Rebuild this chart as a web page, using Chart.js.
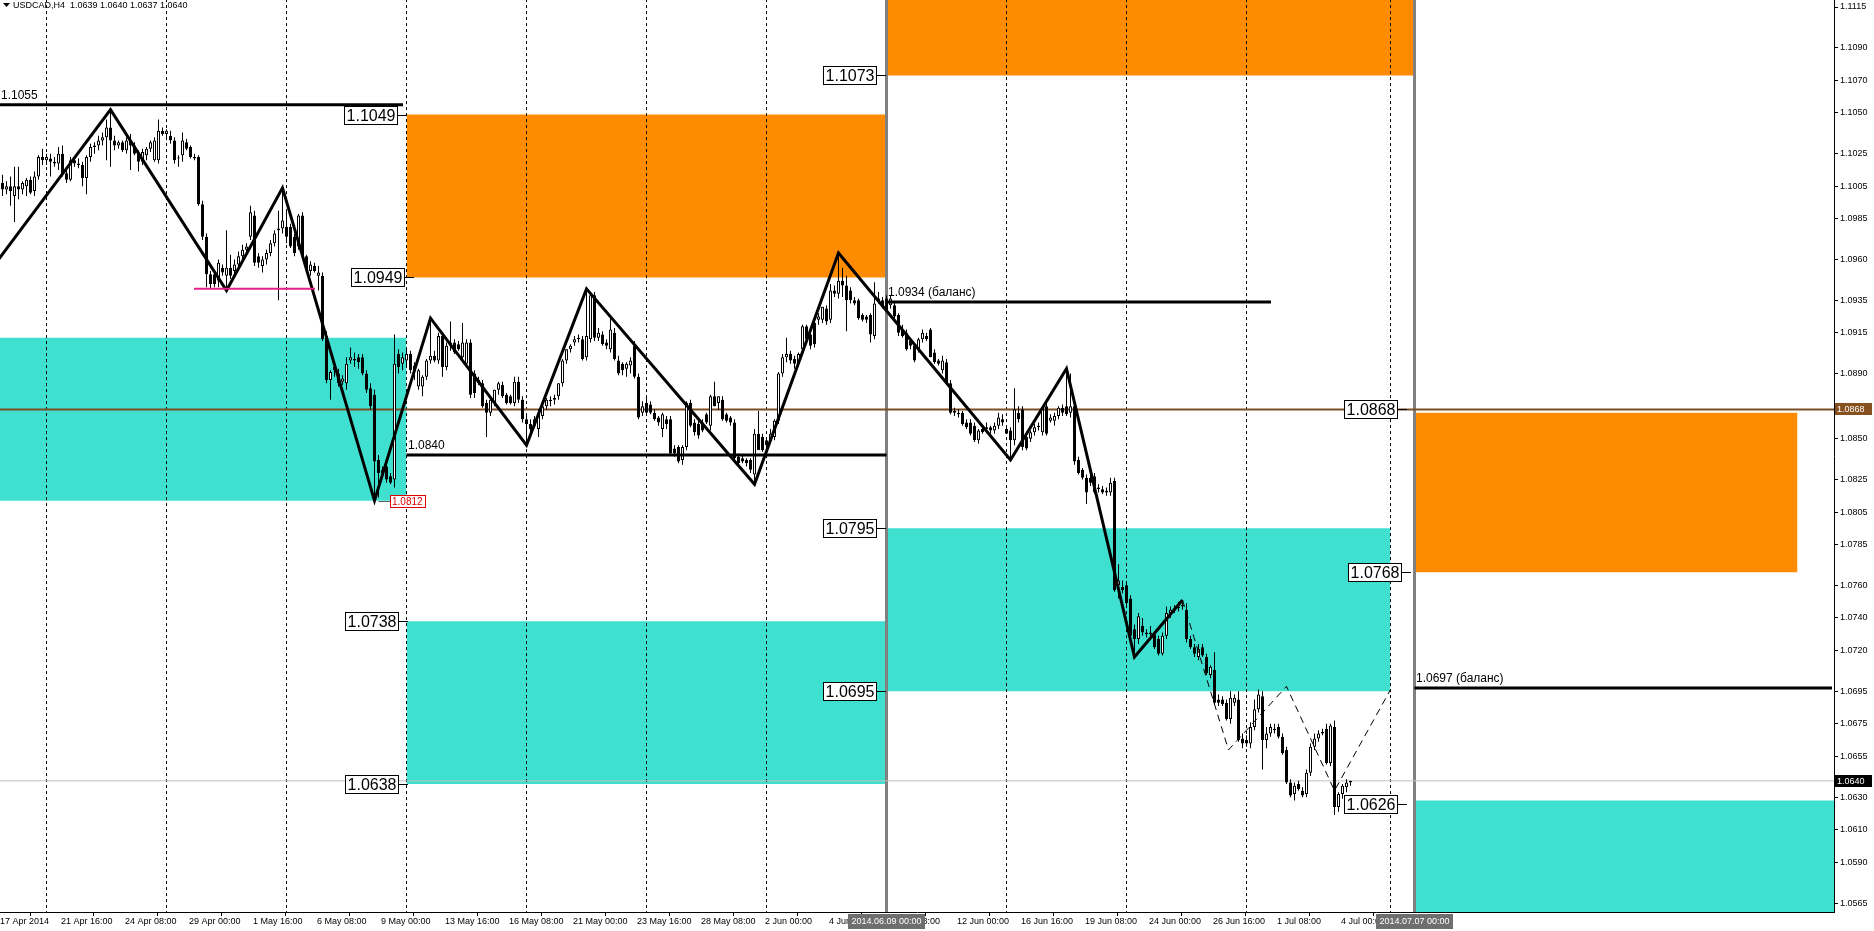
<!DOCTYPE html>
<html>
<head>
<meta charset="utf-8">
<script src="https://cdn.jsdelivr.net/npm/chart.js@4.4.1/dist/chart.umd.min.js"></script>
<style>
  html, body { margin: 0; padding: 0; background: #fff; overflow: hidden; }
  canvas { display: block; }
</style>
</head>
<body>
<canvas id="chart" width="1874" height="931"></canvas>
<script>
// USDCAD H4 - prices kept as pips above 1.0000 (1013 -> 1.1013), one [open, high, low, close] per bar
const candlesApr = [
  [1007,1012,999,1003],[1003,1008,1000,1005],[1005,1011,993,1002],[999,1017,983,1005],[1005,1017,997,1003],
  [1003,1008,1000,1007],[1005,1010,999,1009],[1009,1011,1000,1001],[1002,1014,999,1011],[1011,1024,1009,1023],
  [1023,1028,1018,1021],[1021,1025,1018,1023],[1022,1025,1011,1020],[1020,1023,1017,1019],[1019,1029,1015,1025],
  [1025,1030,1011,1013],[1013,1016,1007,1009],[1009,1023,1008,1021],[1021,1023,1017,1019],[1019,1022,1016,1018],
  [1018,1020,1005,1010],[1010,1024,1000,1023],[1023,1031,1020,1029],[1029,1032,1025,1030],[1030,1036,1027,1033],
  [1033,1038,1030,1035],[1035,1046,1021,1041],[1041,1052,1017,1033],[1033,1036,1027,1030],[1030,1033,1028,1032],
  [1032,1033,1026,1027],[1027,1035,1025,1033],[1033,1037,1015,1030],[1030,1032,1024,1025],[1025,1027,1014,1020],
  [1020,1028,1018,1026],[1024,1029,1021,1028],[1028,1033,1026,1032],[1021,1035,1020,1033],[1021,1046,1019,1039],
  [1039,1041,1036,1037],[1037,1040,1035,1039],[1036,1039,1031,1033],[1033,1035,1019,1021],[1022,1024,1017,1022],
  [1024,1038,1020,1033],[1032,1034,1027,1028],[1029,1030,1022,1023],[1023,1025,1021,1022],[1023,1024,993,994],
  [994,996,972,974],[974,976,943,951],[951,953,942,945],[951,953,943,945],[947,960,943,958],
  [955,957,950,952],[950,978,941,955],[955,963,948,950],[953,960,951,957],[957,965,954,962],
  [962,969,960,966],[966,970,964,968],[974,993,972,989],[987,990,956,958],[962,964,955,958],
  [956,962,952,960],[960,966,957,964],[964,972,962,970],[970,978,968,976],[978,990,935,979],
  [979,1004,976,984],[980,990,970,974],[980,982,967,968],[974,976,962,964],[968,988,966,987],
  [987,989,960,962],[962,963,952,954],[953,959,950,957],[956,958,952,953],[950,956,941,952],
  [950,952,910,911],[913,916,884,886],[886,892,874,891],[892,896,888,894],[890,893,882,884],
  [885,889,883,887],[884,900,880,896],[898,906,896,900],[899,903,894,898],[900,902,893,897],
  [900,902,889,890],[890,892,878,880],[881,884,868,870],[877,880,812,836],[837,840,814,829],
  [831,833,826,829],[833,836,823,825],[827,829,822,823],[825,914,820,896],[902,905,890,894],
  [896,903,892,900],[898,905,894,902],[902,904,890,892]
];
const candlesMay = [
  [895,897,886,892],[882,893,880,892],[882,889,876,888],[888,899,886,898],[898,924,896,901],
  [901,904,897,898],[898,915,896,913],[913,915,888,894],[894,909,892,907],[907,922,904,909],
  [909,911,902,903],[908,910,904,905],[900,921,897,909],[896,911,894,909],[909,911,875,877],
  [890,892,875,878],[886,888,883,884],[884,886,869,870],[872,874,851,866],[866,875,864,874],
  [872,880,870,880],[880,885,877,884],[883,885,875,876],[877,878,871,872],[876,877,871,872],
  [872,888,870,885],[885,888,872,874],[874,876,860,862],[862,864,846,859],[859,862,851,856],
  [862,864,857,858],[856,868,851,866],[864,870,862,870],[870,875,868,874],[873,876,870,874],
  [874,877,871,875],[876,884,874,884],[884,899,882,898],[898,905,896,905],[905,908,903,907],
  [909,913,907,911],[911,914,909,912],[911,913,898,899],[900,942,898,913],[911,940,909,938],
  [938,940,910,912],[912,918,910,915],[914,916,907,908],[909,911,905,907],[905,925,903,917],
  [915,918,898,899],[898,901,889,890],[896,897,889,892],[893,897,888,896],[895,900,890,898],
  [907,910,887,888],[888,890,862,863],[866,873,864,870],[872,875,865,866],[871,873,865,866],
  [866,868,861,862],[863,864,858,860],[856,866,851,865],[862,864,856,859],[862,864,840,841],
  [844,846,839,841],[845,846,835,836],[837,846,834,845],[845,873,843,872],[872,874,857,858],
  [860,862,852,854],[859,861,850,852],[860,862,854,855],[865,866,859,860],[858,877,855,876],
  [876,885,870,870],[872,876,868,876],[874,876,861,862],[865,866,860,861],[863,864,858,860],
  [860,862,837,838],[839,841,834,835],[838,840,835,836],[837,838,833,835],[837,838,829,831],
  [828,856,822,853],[853,867,850,843],[851,853,842,843],[849,851,844,846],[849,856,847,853],
  [851,862,849,861],[861,891,859,890],[890,902,888,900],[900,912,897,902],[902,904,896,898],
  [899,901,893,896],[896,903,894,902]
];
const candlesJun = [
  [905,920,902,919],[919,920,910,911],[914,916,905,907],[921,923,906,908],[923,927,920,925],
  [923,931,921,931],[930,932,920,922],[923,945,921,941],[941,944,937,939],[939,964,936,947],
  [947,955,937,944],[944,950,916,935],[941,943,933,935],[935,937,932,933],[935,936,923,924],
  [926,927,922,923],[925,926,921,923],[926,927,909,914],[913,946,911,933],[936,940,933,934],
  [935,937,930,931],[936,938,928,929],[932,938,930,936],[932,934,924,925],[926,927,913,915],
  [917,920,912,913],[915,917,904,905],[910,912,905,907],[907,908,897,898],[905,912,903,911],
  [911,917,909,915],[913,915,910,911],[917,918,900,900],[903,905,896,897],[898,899,895,896],
  [892,901,890,898],[897,899,883,884],[884,886,865,866],[867,869,864,866],[866,868,863,865],
  [866,867,858,859],[860,862,856,857],[860,862,852,853],[858,860,848,849],[849,856,847,855],
  [856,858,853,854],[856,860,854,857],[857,858,853,855],[855,860,853,858],[858,866,856,863],
  [862,865,858,860],[856,858,853,853],[855,857,837,849],[849,881,846,868],[866,870,860,862],
  [868,870,843,845],[851,853,843,844],[850,855,848,854],[854,859,852,857],[857,860,855,858],
  [854,870,852,869],[870,872,852,853],[861,865,860,863],[861,866,858,864],[864,870,862,869],
  [869,871,864,866],[870,893,864,865],[866,890,863,870],[870,872,834,836],[837,839,828,829],
  [831,832,825,826],[826,828,810,817]
];
const candlesJul = [
  [826,828,821,823],[827,829,816,817],[820,822,817,819],[819,821,816,817],[818,820,815,817],
  [817,826,815,823],[824,826,756,757],[760,773,752,763],[759,763,755,757],[760,762,748,749],
  [752,754,728,729],[733,736,716,727],[727,743,724,741],[735,740,729,731],[730,733,728,731],
  [731,735,728,730],[730,732,721,722],[727,729,717,718],[718,731,717,729],[729,747,727,743],
  [743,747,740,745],[745,748,743,746],[746,750,744,747],[747,751,745,748],[745,749,725,727],
  [727,729,721,722],[722,724,716,718],[716,724,714,721],[722,724,716,717],[716,718,705,706],
  [705,711,703,710],[708,719,687,688],[690,693,686,688],[690,692,686,687],[688,690,677,678],
  [678,695,675,691],[688,693,686,691],[690,695,664,665],[666,669,660,663],[665,668,661,663],
  [663,676,660,673],[673,690,671,684],[684,696,682,693],[692,695,647,665],[665,673,660,669],
  [669,675,667,673],[672,675,669,671],[673,675,666,667],[667,669,656,657],[659,661,638,639],
  [639,641,630,631],[632,639,628,637],[638,640,634,635],[634,636,630,631],[632,647,630,645],
  [645,663,643,661],[661,669,659,666],[666,671,664,669],[669,672,668,670],[672,675,650,651],
  [651,675,649,674],[673,677,619,624],[624,633,621,632],[632,638,629,637],[636,641,633,639],
  [639,640,637,640]
];

// zigzag (bar position, pips)
const zigX = [-1, 27.625, 56.625, 70.625, 93.625, 107.625, 131.625, 146.625, 188.625, 209.625, 252.625, 266.625, 283.625, 295.625];
const zigY = [958, 1052, 941, 1004, 812, 924, 846, 942, 822, 964, 837, 893, 716, 751];
const zigDashX = [295.625, 307.125, 321.625, 333.625, 347.625];
const zigDashY = [751, 659, 698, 634, 696];

// zones: bar range and price range
const zoneX0 = [-1, 101.625, 101.625, 221.625, 221.625, 353.625, 353.625];
const zoneX1 = [101.625, 221.625, 221.625, 353.625, 347.625, 449.375, 460];
const zoneTop = [1.0912, 1.1049, 1.0738, 1.1173, 1.0795, 1.0866, 1.0628];
const zoneBottom = [1.0812, 1.0949, 1.0638, 1.1073, 1.0695, 1.0768, 1.0528];
const zoneKind = ['demand', 'supply', 'demand', 'supply', 'demand', 'supply', 'demand'];

// labelled price levels on the zones
const zoneLabelPrice = [1.1049, 1.0949, 1.0738, 1.0638, 1.1073, 1.0795, 1.0695, 1.0868, 1.0768, 1.0626];
const zoneLabelX = [101.75, 103.5, 102, 102, 221.5, 221.5, 221.5, 351.75, 352.75, 351.75];

// horizontal level lines
const levelText = ['1.1055', '1.0840', '1.0934 (баланс)', '1.0697 (баланс)'];
const levelPrice = [1.1055, 1.0840, 1.0934, 1.0697];
const levelX0 = [0, 101.625, 221.625, 353.625];
const levelX1 = [100.75, 221.625, 317.75, 458];
const pinkLevel = { price: 1.0942, x0: 48.5, x1: 78.75 };
const brownLevel = 1.0868;
const bidLevel = 1.0640;

// time axis
const gridWeeks = [11.625, 41.625, 71.625, 101.625, 131.625, 161.625, 191.625, 251.625, 281.625, 311.625, 347.625];
const vLines = [221.625, 353.625];
const vLineText = ['2014.06.09 00:00', '2014.07.07 00:00'];
const xTickPos = [0, 15.25, 31.25, 47.25, 63.25, 79.25, 95.25, 111.25, 127.25, 143.25, 159.25, 175.25, 191.25,
  207.25, 223.25, 239.25, 255.25, 271.25, 287.25, 303.25, 319.25, 335.25];
const xTickLabels = ['17 Apr 2014', '21 Apr 16:00', '24 Apr 08:00', '29 Apr 00:00', '1 May 16:00', '6 May 08:00',
  '9 May 00:00', '13 May 16:00', '16 May 08:00', '21 May 00:00', '23 May 16:00', '28 May 08:00', '2 Jun 00:00',
  '4 Jun 16:00', '9 Jun 08:00', '12 Jun 00:00', '16 Jun 16:00', '19 Jun 08:00', '24 Jun 00:00', '26 Jun 16:00',
  '1 Jul 08:00', '4 Jul 00:00'];
const yTickVals = [1.1115, 1.1090, 1.1070, 1.1050, 1.1025, 1.1005, 1.0985, 1.0960, 1.0935, 1.0915, 1.0890,
  1.0850, 1.0825, 1.0805, 1.0785, 1.0760, 1.0740, 1.0720, 1.0695, 1.0675, 1.0655, 1.0630, 1.0610, 1.0590, 1.0565];

const Y_MAX = 1.11193, Y_MIN = 1.05595, X_MAX = 458.5;
const FONT = '"Liberation Sans", Arial, sans-serif';
const P = (v) => 1 + v / 10000;

const candles = [...candlesApr, ...candlesMay, ...candlesJun, ...candlesJul];

function vertical(xs) {
  const pts = [];
  xs.forEach((v) => {
    pts.push({ x: v, y: Y_MAX + 0.01 }, { x: v, y: Y_MIN - 0.01 }, { x: v, y: null });
  });
  return pts;
}

function hLine(x0, x1, price, color, width, order) {
  return {
    type: 'line', data: [{ x: x0, y: price }, { x: x1, y: price }],
    borderColor: color, borderWidth: width, pointRadius: 0, fill: false, order, clip: 0,
  };
}

const datasets = [];

zoneKind.forEach((k, i) => {
  const color = k === 'supply' ? '#ff8c00' : '#40e0d0';
  datasets.push({
    type: 'line',
    data: [{ x: zoneX0[i], y: zoneTop[i] }, { x: zoneX1[i], y: zoneTop[i] }],
    borderWidth: 0, borderColor: color, backgroundColor: color,
    pointRadius: 0, fill: { value: zoneBottom[i] }, order: 100, clip: 0,
  });
});

datasets.push({
  type: 'line', data: vertical(gridWeeks), borderColor: '#000', borderWidth: 1,
  borderDash: [3, 3], pointRadius: 0, spanGaps: false, fill: false, order: 90, clip: 0,
});
datasets.push({
  type: 'line', data: vertical(vLines), borderColor: '#808080', borderWidth: 3,
  pointRadius: 0, spanGaps: false, fill: false, order: 89, clip: 0,
});
datasets.push(hLine(-1, X_MAX + 1, bidLevel, '#c0c0c0', 1, 88));
datasets.push(hLine(-1, X_MAX + 1, brownLevel, '#7d4e24', 2, 87));

// candles: wicks then bodies
datasets.push({
  type: 'bar', grouped: false, barThickness: 1, inflateAmount: 0,
  data: candles.map((c, i) => ({ x: i + 0.625, y: [P(c[2]), P(c[1])] })),
  backgroundColor: '#000', borderWidth: 0, order: 60,
});
datasets.push({
  type: 'bar', grouped: false, barThickness: 3, inflateAmount: 0, minBarLength: 1,
  data: candles.map((c, i) => ({ x: i + 0.625, y: [P(c[0]), P(c[3])] })),
  backgroundColor: candles.map((c) => (c[3] > c[0] ? '#fff' : '#000')),
  borderColor: '#000', borderWidth: 1, borderSkipped: false, order: 59,
});

datasets.push({
  type: 'line', data: zigX.map((x, i) => ({ x, y: P(zigY[i]) })),
  borderColor: '#000', borderWidth: 3, pointRadius: 0, fill: false, order: 20, clip: 0,
});
datasets.push({
  type: 'line', data: zigDashX.map((x, i) => ({ x, y: P(zigDashY[i]) })),
  borderColor: '#000', borderWidth: 1, borderDash: [7, 5], pointRadius: 0, fill: false, order: 21, clip: 0,
});

levelPrice.forEach((p, i) => datasets.push(hLine(levelX0[i], levelX1[i], p, '#000', 3, 10)));
datasets.push(hLine(pinkLevel.x0, pinkLevel.x1, pinkLevel.price, '#e4208c', 2, 11));

// texts, price labels and axis markers
const annotations = {
  id: 'annotations',
  afterDraw(chart) {
    const { ctx, scales: { x, y } } = chart;
    const X = (v) => x.getPixelForValue(v);
    const Y = (v) => y.getPixelForValue(v);
    ctx.save();
    ctx.textBaseline = 'middle';

    // level captions
    ctx.font = '12px ' + FONT;
    ctx.fillStyle = '#000';
    ctx.textAlign = 'left';
    levelText.forEach((t, i) => ctx.fillText(t, Math.round(X(levelX0[i])) + 1, Y(levelPrice[i]) - 9));

    // boxed zone prices
    ctx.font = '16px ' + FONT;
    zoneLabelPrice.forEach((p, i) => {
      const t = p.toFixed(4);
      const ax = Math.round(X(zoneLabelX[i]));
      const py = Math.round(Y(p)) + 0.5;
      const w = Math.ceil(ctx.measureText(t).width) + 4;
      const r = ax - 10;
      ctx.fillStyle = '#fff';
      ctx.fillRect(r - w, py - 9.5, w, 19);
      ctx.strokeStyle = '#000';
      ctx.lineWidth = 1;
      ctx.strokeRect(r - w + 0.5, py - 9, w, 18);
      ctx.beginPath();
      ctx.moveTo(r, py);
      ctx.lineTo(ax, py);
      ctx.stroke();
      ctx.fillStyle = '#000';
      ctx.textAlign = 'center';
      ctx.fillText(t, r - w / 2 + 0.5, py + 1);
    });

    // left price label at the May low
    const lowY = Math.round(Y(1.0812)) + 0.5;
    ctx.strokeStyle = '#606060';
    ctx.beginPath();
    ctx.moveTo(X(94.625), lowY);
    ctx.lineTo(X(97.5), lowY);
    ctx.stroke();
    ctx.font = '10px ' + FONT;
    const lw = Math.ceil(ctx.measureText('1.0812').width) + 4;
    ctx.fillStyle = '#fff';
    ctx.fillRect(X(97.5), lowY - 6, lw, 12);
    ctx.strokeStyle = '#e00000';
    ctx.strokeRect(Math.round(X(97.5)) + 0.5, lowY - 6, lw, 12);
    ctx.fillStyle = '#e00000';
    ctx.textAlign = 'left';
    ctx.fillText('1.0812', X(97.5) + 2, lowY + 0.5);

    // price axis markers
    ctx.font = '9px ' + FONT;
    [[brownLevel, '#87501f'], [bidLevel, '#000']].forEach(([p, bg]) => {
      const py = Math.round(Y(p));
      ctx.fillStyle = bg;
      ctx.fillRect(x.right + 1, py - 6, 37, 12);
      ctx.fillStyle = '#fff';
      ctx.textAlign = 'left';
      ctx.fillText(p.toFixed(4), x.right + 3, py + 0.5);
    });

    // vertical line dates on the time axis
    vLines.forEach((v, i) => {
      const cx = X(v);
      const w = Math.ceil(ctx.measureText(vLineText[i]).width) + 6;
      ctx.fillStyle = '#6e6e6e';
      ctx.fillRect(Math.round(cx - w / 2), y.bottom + 2, w, 15);
      ctx.fillStyle = '#fff';
      ctx.textAlign = 'center';
      ctx.fillText(vLineText[i], cx, y.bottom + 10);
    });

    // header
    ctx.fillStyle = '#000';
    ctx.beginPath();
    ctx.moveTo(3, 3);
    ctx.lineTo(10, 3);
    ctx.lineTo(6.5, 7);
    ctx.closePath();
    ctx.fill();
    ctx.textAlign = 'left';
    ctx.fillText('USDCAD,H4  1.0639 1.0640 1.0637 1.0640', 13, 6);
    ctx.restore();
  },
};

new Chart(document.getElementById('chart'), {
  type: 'bar',
  data: { datasets },
  options: {
    responsive: false,
    animation: false,
    devicePixelRatio: 1,
    events: [],
    layout: { padding: 0 },
    plugins: { legend: { display: false }, tooltip: { enabled: false } },
    scales: {
      x: {
        type: 'linear', min: 0, max: X_MAX, offset: false,
        grid: { drawOnChartArea: false, drawTicks: true, tickLength: 4, color: '#000' },
        border: { display: true, color: '#000', width: 1 },
        ticks: {
          autoSkip: false, maxRotation: 0, minRotation: 0, align: 'start', padding: 0,
          color: '#000', font: { family: FONT, size: 9 },
          callback: (v, i) => xTickLabels[i],
        },
        afterBuildTicks: (s) => { s.ticks = xTickPos.map((v) => ({ value: v })); },
        afterFit: (s) => { s.height = 19; s.paddingLeft = 0; s.paddingRight = 0; },
      },
      y: {
        type: 'linear', position: 'right', min: Y_MIN, max: Y_MAX,
        grid: { drawOnChartArea: false, drawTicks: true, tickLength: 4, color: '#000' },
        border: { display: true, color: '#000', width: 1 },
        ticks: {
          padding: 2, color: '#000', font: { family: FONT, size: 9 },
          callback: (v) => Number(v).toFixed(4),
        },
        afterBuildTicks: (s) => { s.ticks = yTickVals.map((v) => ({ value: v })); },
        afterFit: (s) => { s.width = 40; s.paddingTop = 0; s.paddingBottom = 0; },
      },
    },
  },
  plugins: [annotations],
});
</script>
</body>
</html>
